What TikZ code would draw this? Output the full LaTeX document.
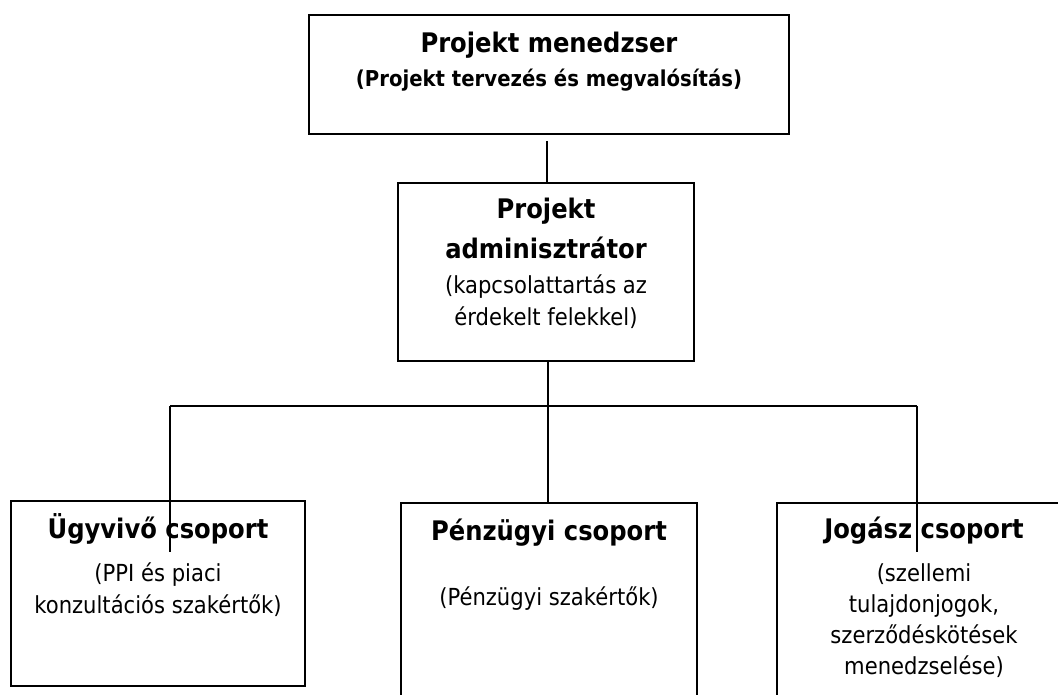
\documentclass[tikz,border=0pt]{standalone}
\usepackage{fontspec}
\setmainfont[FakeStretch=0.9]{DejaVu Sans}
\usetikzlibrary{fit}
\tikzset{
  box/.style={draw, line width=1.7pt, inner sep=0pt, fit={#1}},
  ttl/.style={anchor=base, inner sep=0pt, font=\bfseries\fontsize{20.2}{22}\selectfont},
  sub/.style={anchor=base, inner sep=0pt, font=\bfseries\fontsize{16.4}{18}\selectfont},
  txt/.style={anchor=base, inner sep=0pt, font=\fontsize{17.6}{20}\selectfont},
  conn/.style={line width=1.4pt}
}
\begin{document}
\begin{tikzpicture}[x=0.75pt,y=-0.75pt]
\useasboundingbox (0,0) rectangle (1058,695);
\fill[white] (0,0) rectangle (1058,695);
% boxes
\node[box={(309,15)(789,134)}] (pm) {};
\node[box={(398,183)(694,361)}] (pa) {};
\node[box={(11,501)(305,686)}] (ugy) {};
\node[box={(401,503)(697,720)}] (pen) {};
\node[box={(777,503)(1080,720)}] (jog) {};
% texts
\node[ttl] (pm1) at (549,53) {Projekt menedzser};
\node[sub] (pm2) at (549,87) {(Projekt tervezés és megvalósítás)};
\node[ttl] (pa1) at (546,219) {Projekt};
\node[ttl] (pa2) at (546,259) {adminisztrátor};
\node[txt] (pa3) at (546,294) {(kapcsolattartás az};
\node[txt] (pa4) at (546,326) {érdekelt felekkel)};
\node[ttl] (ug1) at (158,538) {Ügyvivő csoport};
\node[txt] (ug2) at (158,581) {(PPI és piaci};
\node[txt] (ug3) at (158,613) {konzultációs szakértők)};
\node[ttl] (pe1) at (549,541) {Pénzügyi csoport};
\node[txt] (pe2) at (549,605) {(Pénzügyi szakértők)};
\node[ttl] (jo1) at (924,539) {Jogász csoport};
\node[txt] (jo2) at (924,581) {(szellemi};
\node[txt] (jo3) at (924,612) {tulajdonjogok,};
\node[txt] (jo4) at (924,643) {szerződéskötések};
\node[txt] (jo5) at (924,674) {menedzselése)};
% connectors
\coordinate (top) at (547,141);
\coordinate (hj) at (548,406);
\coordinate (hl) at (170,406);
\coordinate (hr) at (917,406);
\coordinate (el) at (170,552);
\coordinate (er) at (917,552);
\draw[conn] (top) -- (pa.north -| top);
\draw[conn] (pa.south -| hj) -- (hj);
\draw[conn] (hl) -- (hr);
\draw[conn] (hl) -- (el);
\draw[conn] (hr) -- (er);
\draw[conn] (hj) -- (pen.north -| hj);
\end{tikzpicture}
\end{document}
